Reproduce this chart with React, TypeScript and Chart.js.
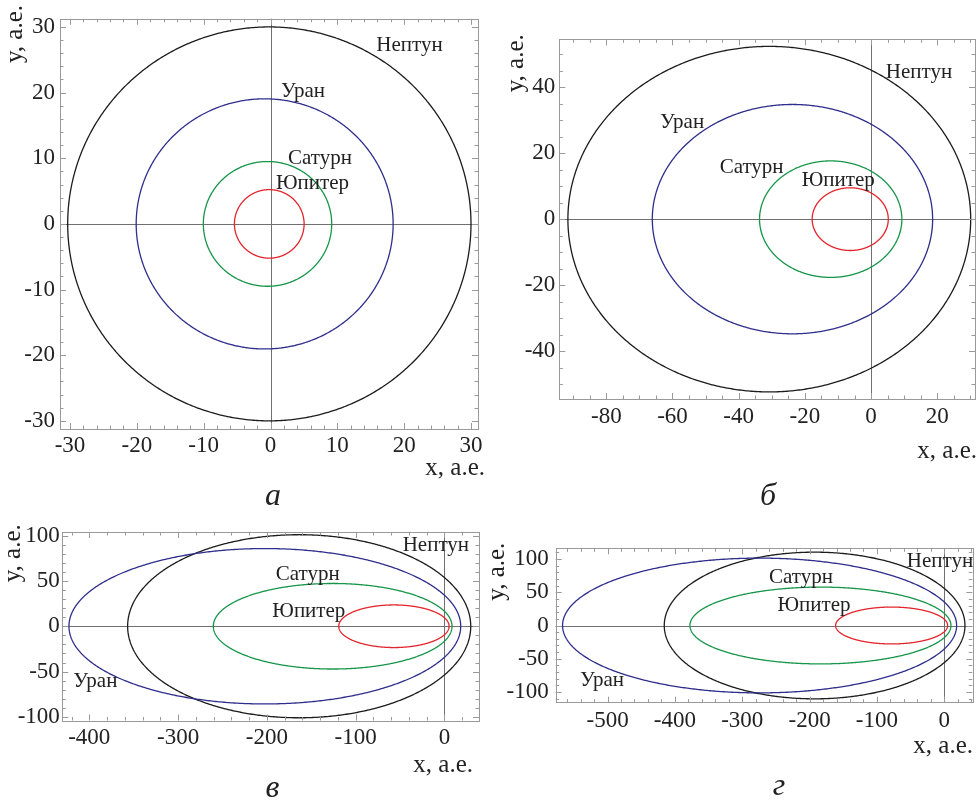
import React, { useEffect, useRef } from "react";
import { Chart, registerables } from "chart.js";

Chart.register(...registerables);

const FONT = "'Liberation Serif', 'Times New Roman', serif";

// Planets, in drawing order
const planetNames = ["Юпитер", "Сатурн", "Уран", "Нептун"];
const planetColors = ["#e3262d", "#17964a", "#2f2e8c", "#1c1c1c"];

// Panel а — orbit extents, а.е.: leftmost x, rightmost x, half-height
const orbitLeftA = [-5.4, -10.05, -20.1, -30.35];
const orbitRightA = [5.03, 9.16, 18.35, 30.0];
const orbitHalfA = [5.22, 9.5, 19.05, 30.0];
const labelXA = [6.28, 7.4, 4.86, 20.8];
const labelYA = [6.41, 10.21, 20.43, 27.4];
const ticksXA = [-30, -20, -10, 0, 10, 20, 30];
const ticksYA = [-30, -20, -10, 0, 10, 20, 30];

// Panel б
const orbitLeftB = [-17.8, -33.7, -66.1, -91.6];
const orbitRightB = [5.2, 9.3, 18.6, 30.1];
const orbitHalfB = [9.5, 17.65, 34.75, 52.35];
const labelXB = [-9.9, -36.1, -57.1, 14.47];
const labelYB = [12.1, 16.2, 29.7, 45.0];
const ticksXB = [-80, -60, -40, -20, 0, 20];
const ticksYB = [-40, -20, 0, 20, 40];

// Panel в
const orbitLeftC = [-119, -260.3, -422.9, -356.8];
const orbitRightC = [5.3, 8.6, 18.4, 29.7];
const orbitHalfC = [23.5, 47.2, 85.75, 101.0];
const labelXC = [-152.7, -154, -393.2, -9.6];
const labelYC = [17.6, 58.4, -59.7, 90.5];
const ticksXC = [-400, -300, -200, -100, 0];
const ticksYC = [-100, -50, 0, 50, 100];

// Panel г
const orbitLeftD = [-161.4, -377.7, -566.8, -415.8];
const orbitRightD = [5.0, 9.9, 18.3, 30.7];
const orbitHalfD = [27.7, 57.7, 101.25, 110.2];
const labelXD = [-193.5, -212.8, -508.3, -6.4];
const labelYD = [32.8, 73.9, -79.9, 98.4];
const ticksXD = [-500, -400, -300, -200, -100, 0];
const ticksYD = [-100, -50, 0, 50, 100];

type Panel = {
  left: number; top: number; width: number; height: number;
  area: { l: number; t: number; r: number; b: number };
  xMin: number; xMax: number; yMin: number; yMax: number;
  xTicks: number[]; yTicks: number[]; xMinor: number; yMinor: number;
  oLeft: number[]; oRight: number[]; oHalf: number[];
  lx: number[]; ly: number[];
  xPad: number; yPad: number;
  xTitle: { r: number; base: number };
  yTitle: { cx: number; cy: number };
};

const panels: Panel[] = [
  {
    left: 0, top: 0, width: 490, height: 480,
    area: { l: 60, t: 10, r: 478, b: 429 },
    xMin: -31.5, xMax: 31.05, yMin: -31.24, yMax: 31.24,
    xTicks: ticksXA, yTicks: ticksYA, xMinor: 2, yMinor: 2,
    oLeft: orbitLeftA, oRight: orbitRightA, oHalf: orbitHalfA,
    lx: labelXA, ly: labelYA, xPad: 3.5, yPad: 5,
    xTitle: { r: 485, base: 475 }, yTitle: { cx: 16.5, cy: 34 },
  },
  {
    left: 490, top: 0, width: 489, height: 480,
    area: { l: 69.3, t: 39.3, r: 485, b: 399 },
    xMin: -94.2, xMax: 31.4, yMin: -54.5, yMax: 54.5,
    xTicks: ticksXB, yTicks: ticksYB, xMinor: 5, yMinor: 5,
    oLeft: orbitLeftB, oRight: orbitRightB, oHalf: orbitHalfB,
    lx: labelXB, ly: labelYB, xPad: 4, yPad: 4,
    xTitle: { r: 487, base: 458 }, yTitle: { cx: 27, cy: 63.3 },
  },
  {
    left: 0, top: 480, width: 490, height: 323,
    area: { l: 62.3, t: 52, r: 479, b: 240.5 },
    xMin: -430.4, xMax: 39, yMin: -104, yMax: 104,
    xTicks: ticksXC, yTicks: ticksYC, xMinor: 20, yMinor: 10,
    oLeft: orbitLeftC, oRight: orbitRightC, oHalf: orbitHalfC,
    lx: labelXC, ly: labelYC, xPad: 3.5, yPad: 2.5,
    xTitle: { r: 473, base: 291.7 }, yTitle: { cx: 14, cy: 73.3 },
  },
  {
    left: 490, top: 480, width: 489, height: 323,
    area: { l: 65.7, t: 68.3, r: 482.3, b: 222.7 },
    xMin: -577, xMax: 41.6, yMin: -116, yMax: 116,
    xTicks: ticksXD, yTicks: ticksYD, xMinor: 20, yMinor: 10,
    oLeft: orbitLeftD, oRight: orbitRightD, oHalf: orbitHalfD,
    lx: labelXD, ly: labelYD, xPad: 4.5, yPad: 7,
    xTitle: { r: 483, base: 273.3 }, yTitle: { cx: 8, cy: 91.7 },
  },
];

const panelLetters = ["а", "б", "в", "г"];
const letterPos = [
  { x: 273, base: 505 },
  { x: 768, base: 505 },
  { x: 272.5, base: 797 },
  { x: 779, base: 795 },
];

const TICK_SIZE = 23;

function orbitPoints(left: number, right: number, half: number) {
  const cx = (left + right) / 2;
  const a = (right - left) / 2;
  const pts: { x: number; y: number }[] = [];
  const n = 360;
  for (let i = 0; i <= n; i++) {
    const t = (i / n) * 2 * Math.PI;
    pts.push({ x: cx + a * Math.cos(t), y: half * Math.sin(t) });
  }
  return pts;
}

function makeDecor(p: Panel) {
  return {
    id: "decor",
    beforeDatasetsDraw(chart: any) {
      const { ctx, chartArea: a, scales } = chart;
      const x0 = Math.round(scales.x.getPixelForValue(0)) + 0.5;
      const y0 = Math.round(scales.y.getPixelForValue(0)) + 0.5;
      ctx.save();
      ctx.strokeStyle = "#707070";
      ctx.lineWidth = 1;
      ctx.beginPath();
      ctx.moveTo(x0, a.top);
      ctx.lineTo(x0, a.bottom);
      ctx.moveTo(a.left, y0);
      ctx.lineTo(a.right, y0);
      ctx.stroke();
      ctx.restore();
    },
    afterDatasetsDraw(chart: any) {
      const { ctx, chartArea: a, scales } = chart;
      const sx = scales.x, sy = scales.y;
      ctx.save();
      // frame
      ctx.strokeStyle = "#9a9a9a";
      ctx.lineWidth = 1;
      ctx.strokeRect(Math.round(a.left) + 0.5, Math.round(a.top) + 0.5,
        Math.round(a.right - a.left), Math.round(a.bottom - a.top));
      // inner ticks on four sides
      const xMajStep = p.xTicks[1] - p.xTicks[0];
      const yMajStep = p.yTicks[1] - p.yTicks[0];
      ctx.beginPath();
      for (let v = Math.ceil(p.xMin / p.xMinor) * p.xMinor; v <= p.xMax; v += p.xMinor) {
        const px = Math.round(sx.getPixelForValue(v)) + 0.5;
        const len = Math.abs(v % xMajStep) < 1e-6 ? 6 : 3.5;
        ctx.moveTo(px, a.bottom);
        ctx.lineTo(px, a.bottom - len);
        ctx.moveTo(px, a.top);
        ctx.lineTo(px, a.top + len);
      }
      for (let v = Math.ceil(p.yMin / p.yMinor) * p.yMinor; v <= p.yMax; v += p.yMinor) {
        const py = Math.round(sy.getPixelForValue(v)) + 0.5;
        const len = Math.abs(v % yMajStep) < 1e-6 ? 6 : 3.5;
        ctx.moveTo(a.left, py);
        ctx.lineTo(a.left + len, py);
        ctx.moveTo(a.right, py);
        ctx.lineTo(a.right - len, py);
      }
      ctx.stroke();
      // planet labels
      ctx.fillStyle = "#222";
      ctx.font = `21px ${FONT}`;
      ctx.textAlign = "center";
      ctx.textBaseline = "alphabetic";
      planetNames.forEach((name, i) => {
        const px = sx.getPixelForValue(p.lx[i]);
        const py = sy.getPixelForValue(p.ly[i]);
        ctx.fillText(name, px, py + 21 * 0.33);
      });
      // axis titles
      ctx.font = `25px ${FONT}`;
      ctx.textAlign = "right";
      ctx.fillText("x, а.е.", p.xTitle.r, p.xTitle.base);
      ctx.translate(p.yTitle.cx, p.yTitle.cy);
      ctx.rotate(-Math.PI / 2);
      ctx.textAlign = "center";
      ctx.fillText("y, а.е.", 0, 25 * 0.23);
      ctx.restore();
    },
  };
}

function PanelChart({ p }: { p: Panel }) {
  const ref = useRef<HTMLCanvasElement>(null);
  useEffect(() => {
    if (!ref.current) return;
    const chart = new Chart(ref.current, {
      type: "scatter",
      data: {
        datasets: planetNames.map((name, i) => ({
          label: name,
          data: orbitPoints(p.oLeft[i], p.oRight[i], p.oHalf[i]),
          showLine: true,
          borderColor: planetColors[i],
          backgroundColor: planetColors[i],
          borderWidth: 1.3,
          pointRadius: 0,
          fill: false,
          tension: 0.001,
        })),
      },
      options: {
        responsive: false,
        maintainAspectRatio: false,
        animation: false,
        events: [],
        layout: { padding: { left: 0, top: p.area.t, right: p.width - p.area.r, bottom: 0 } },
        plugins: { legend: { display: false }, tooltip: { enabled: false } },
        scales: {
          x: {
            type: "linear",
            min: p.xMin,
            max: p.xMax,
            afterFit: (s: any) => { s.height = p.height - p.area.b; },
            afterBuildTicks: (s: any) => { s.ticks = p.xTicks.map((v) => ({ value: v })); },
            grid: { display: false, drawTicks: false },
            border: { display: false },
            ticks: {
              padding: p.xPad,
              autoSkip: false,
              maxRotation: 0,
              color: "#222",
              font: { family: FONT, size: TICK_SIZE },
              callback: (v: any) => String(v),
            },
          },
          y: {
            type: "linear",
            min: p.yMin,
            max: p.yMax,
            afterFit: (s: any) => { s.width = p.area.l; },
            afterBuildTicks: (s: any) => { s.ticks = p.yTicks.map((v) => ({ value: v })); },
            grid: { display: false, drawTicks: false },
            border: { display: false },
            ticks: {
              padding: p.yPad,
              autoSkip: false,
              color: "#222",
              font: { family: FONT, size: TICK_SIZE },
              callback: (v: any) => String(v),
            },
          },
        },
      },
      plugins: [makeDecor(p)],
    } as any);
    return () => chart.destroy();
  }, [p]);
  return (
    <canvas
      ref={ref}
      width={p.width}
      height={p.height}
      style={{ position: "absolute", left: p.left, top: p.top, width: p.width, height: p.height }}
    />
  );
}

export default function App() {
  return (
    <div style={{ position: "absolute", left: 0, top: 0, width: 979, height: 803, background: "#fff", overflow: "hidden" }}>
      {panels.map((p, i) => (
        <PanelChart key={i} p={p} />
      ))}
      {panelLetters.map((l, i) => (
        <div
          key={l}
          style={{
            position: "absolute",
            left: letterPos[i].x - 20,
            width: 40,
            top: letterPos[i].base - 32 * 0.8375,
            fontFamily: FONT,
            fontStyle: "italic",
            fontSize: 32,
            lineHeight: "32px",
            textAlign: "center",
            color: "#222",
          }}
        >
          {l}
        </div>
      ))}
    </div>
  );
}
